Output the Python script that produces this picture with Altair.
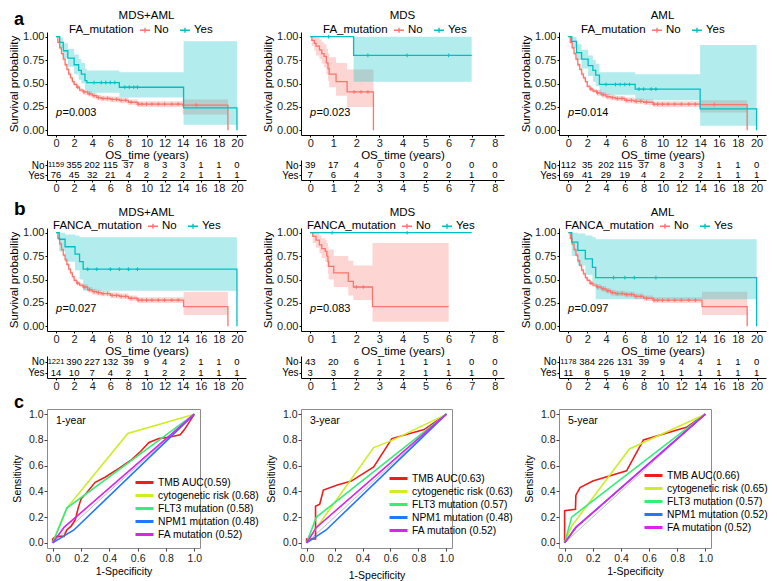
import altair as alt
import pandas as pd

FONT = "Liberation Sans"
RED = "#F8766D"
CYAN = "#00BFC4"
GROUPS = ["No", "Yes"]

TICKS_20 = [0, 2, 4, 6, 8, 10, 12, 14, 16, 18, 20]
TICKS_8 = [0, 1, 2, 3, 4, 5, 6, 7, 8]
SURV_TICKS = [0.0, 0.25, 0.5, 0.75, 1.0]
ROC_TICKS = [0.0, 0.2, 0.4, 0.6, 0.8, 1.0]

# ---------------- panel a : FA_mutation ----------------
a1_no_t = [0, 0.2, 0.4, 0.6, 0.8, 1.0, 1.2, 1.4, 1.6, 1.8, 2.0, 2.3, 2.6, 3.0, 3.5, 4.0, 4.5, 5.0, 6.0, 7.0, 8.0, 9.0, 14.0, 19.0]
a1_no_s = [1.00, 0.94, 0.88, 0.82, 0.76, 0.70, 0.65, 0.60, 0.56, 0.52, 0.49, 0.46, 0.43, 0.41, 0.39, 0.37, 0.35, 0.34, 0.33, 0.32, 0.30, 0.28, 0.27, 0.00]
a1_no_lo = [1.00, 0.92, 0.86, 0.80, 0.74, 0.68, 0.63, 0.58, 0.54, 0.50, 0.47, 0.44, 0.41, 0.38, 0.36, 0.34, 0.32, 0.31, 0.30, 0.29, 0.27, 0.25, 0.17, 0.00]
a1_no_hi = [1.00, 0.96, 0.90, 0.84, 0.78, 0.72, 0.67, 0.62, 0.58, 0.54, 0.51, 0.48, 0.45, 0.43, 0.42, 0.40, 0.38, 0.37, 0.36, 0.35, 0.33, 0.31, 0.33, 0.00]
a1_no_c = [2.4, 3.1, 3.7, 4.2, 4.7, 5.2, 5.7, 6.2, 6.7, 7.2, 7.7, 8.3, 9.1, 9.5, 10.0, 10.6, 11.3, 12.0, 12.8, 13.5, 15.5]
a1_yes_t = [0, 0.4, 0.8, 1.3, 2.0, 2.5, 2.8, 3.2, 3.4, 7.0, 14.1, 20.0]
a1_yes_s = [1.00, 0.94, 0.85, 0.77, 0.70, 0.64, 0.60, 0.53, 0.51, 0.46, 0.24, 0.00]
a1_yes_lo = [1.00, 0.88, 0.77, 0.68, 0.60, 0.54, 0.50, 0.43, 0.40, 0.35, 0.06, 0.00]
a1_yes_hi = [1.00, 0.99, 0.93, 0.87, 0.81, 0.76, 0.72, 0.66, 0.64, 0.62, 0.95, 0.00]
a1_yes_c = [4.2, 5.0, 5.5, 6.0, 6.5, 7.6, 8.1, 8.6, 9.0]

a2_no_t = [0, 0.07, 0.18, 0.25, 0.4, 0.5, 0.6, 0.7, 0.77, 0.82, 1.12, 1.6, 2.74]
a2_no_s = [1.00, 0.96, 0.93, 0.90, 0.86, 0.82, 0.79, 0.72, 0.66, 0.60, 0.52, 0.41, 0.00]
a2_no_lo = [1.00, 0.90, 0.85, 0.80, 0.76, 0.71, 0.67, 0.60, 0.53, 0.46, 0.37, 0.25, 0.00]
a2_no_hi = [1.00, 1.00, 1.00, 0.99, 0.97, 0.94, 0.92, 0.87, 0.82, 0.78, 0.72, 0.65, 0.00]
a2_no_c = [1.9, 2.2, 2.5]
a2_yes_t = [0, 1.88, 7.0]
a2_yes_s = [1.00, 0.80, 0.80]
a2_yes_lo = [1.00, 0.52, 0.52]
a2_yes_hi = [1.00, 1.00, 1.00]
a2_yes_c = [0.8, 2.5, 4.2, 6.0]

a3_no_t = [0, 0.2, 0.4, 0.6, 0.8, 1.0, 1.2, 1.4, 1.6, 1.8, 2.0, 2.3, 2.6, 3.0, 3.5, 4.0, 4.5, 5.0, 6.0, 7.0, 8.0, 9.0, 14.0, 19.0]
a3_no_s = [1.00, 0.94, 0.88, 0.82, 0.76, 0.70, 0.65, 0.60, 0.56, 0.52, 0.47, 0.44, 0.42, 0.40, 0.38, 0.36, 0.35, 0.34, 0.32, 0.31, 0.30, 0.28, 0.275, 0.00]
a3_no_lo = [1.00, 0.92, 0.86, 0.80, 0.74, 0.68, 0.63, 0.58, 0.54, 0.50, 0.45, 0.42, 0.40, 0.37, 0.35, 0.33, 0.32, 0.31, 0.29, 0.28, 0.27, 0.25, 0.19, 0.00]
a3_no_hi = [1.00, 0.96, 0.90, 0.84, 0.78, 0.72, 0.67, 0.62, 0.58, 0.54, 0.49, 0.46, 0.44, 0.43, 0.41, 0.39, 0.38, 0.37, 0.35, 0.34, 0.33, 0.31, 0.32, 0.00]
a3_no_c = [2.4, 3.1, 3.7, 4.2, 4.7, 5.2, 5.7, 6.2, 6.7, 7.2, 7.7, 8.3, 9.1, 9.5, 10.0, 10.6, 11.3, 12.0, 12.8, 13.5, 15.5]
a3_yes_t = [0, 0.35, 0.86, 1.4, 2.1, 2.6, 2.9, 3.3, 7.1, 14.0, 20.0]
a3_yes_s = [1.00, 0.95, 0.83, 0.76, 0.69, 0.64, 0.59, 0.49, 0.44, 0.23, 0.00]
a3_yes_lo = [1.00, 0.88, 0.75, 0.66, 0.58, 0.52, 0.47, 0.38, 0.32, 0.05, 0.00]
a3_yes_hi = [1.00, 1.00, 0.92, 0.86, 0.80, 0.75, 0.71, 0.62, 0.60, 0.91, 0.00]
a3_yes_c = [4.0, 5.0, 5.5, 6.0, 6.5, 7.5, 8.0, 8.8, 9.3]

# ---------------- panel b : FANCA_mutation ----------------
b1_no_t = [0, 0.2, 0.4, 0.6, 0.8, 1.0, 1.2, 1.4, 1.6, 1.8, 2.0, 2.3, 2.6, 3.0, 3.5, 4.0, 4.5, 5.0, 6.0, 7.0, 8.0, 9.0, 14.1, 19.0]
b1_no_s = [1.00, 0.94, 0.88, 0.82, 0.76, 0.71, 0.66, 0.61, 0.57, 0.53, 0.49, 0.46, 0.44, 0.42, 0.39, 0.37, 0.36, 0.35, 0.33, 0.32, 0.30, 0.28, 0.21, 0.00]
b1_no_lo = [1.00, 0.92, 0.86, 0.80, 0.74, 0.69, 0.64, 0.59, 0.55, 0.51, 0.47, 0.44, 0.42, 0.39, 0.36, 0.34, 0.33, 0.32, 0.30, 0.29, 0.27, 0.25, 0.12, 0.00]
b1_no_hi = [1.00, 0.96, 0.90, 0.84, 0.78, 0.73, 0.68, 0.63, 0.59, 0.55, 0.51, 0.48, 0.46, 0.45, 0.42, 0.40, 0.39, 0.38, 0.36, 0.35, 0.33, 0.31, 0.37, 0.00]
b1_no_c = [2.4, 3.1, 3.7, 4.2, 4.7, 5.2, 5.7, 6.2, 6.7, 7.2, 7.7, 8.3, 9.1, 9.5, 10.0, 10.6, 11.3, 12.0, 12.8, 13.5]
b1_yes_t = [0, 0.35, 1.0, 2.1, 2.6, 3.0, 20.0]
b1_yes_s = [1.00, 0.93, 0.85, 0.77, 0.69, 0.61, 0.00]
b1_yes_lo = [1.00, 0.80, 0.69, 0.60, 0.50, 0.38, 0.00]
b1_yes_hi = [1.00, 1.00, 0.98, 0.97, 0.95, 0.95, 0.00]
b1_yes_c = [3.5, 4.5, 6.0, 7.0, 8.0, 9.0]

b2_no_t = [0, 0.11, 0.25, 0.4, 0.5, 0.65, 0.72, 0.77, 0.8, 1.02, 1.65, 1.87, 2.7, 6.0]
b2_no_s = [1.00, 0.96, 0.92, 0.87, 0.83, 0.80, 0.75, 0.69, 0.64, 0.57, 0.48, 0.42, 0.21, 0.21]
b2_no_lo = [1.00, 0.89, 0.84, 0.78, 0.73, 0.69, 0.63, 0.56, 0.50, 0.42, 0.33, 0.28, 0.05, 0.05]
b2_no_hi = [1.00, 1.00, 1.00, 0.97, 0.94, 0.92, 0.89, 0.85, 0.82, 0.75, 0.70, 0.65, 0.89, 0.89]
b2_no_c = [2.0, 2.3]
b2_yes_t = [0, 7.0]
b2_yes_s = [1.00, 1.00]
b2_yes_lo = [1.00, 1.00]
b2_yes_hi = [1.00, 1.00]
b2_yes_c = [0.95, 4.2]

b3_no_t = [0, 0.2, 0.4, 0.6, 0.8, 1.0, 1.2, 1.4, 1.6, 1.8, 2.0, 2.3, 2.6, 3.0, 3.5, 4.0, 4.5, 5.0, 6.0, 7.0, 8.0, 9.0, 14.2, 19.0]
b3_no_s = [1.00, 0.94, 0.88, 0.82, 0.76, 0.70, 0.65, 0.60, 0.56, 0.52, 0.49, 0.46, 0.44, 0.42, 0.40, 0.38, 0.36, 0.35, 0.34, 0.32, 0.30, 0.28, 0.21, 0.00]
b3_no_lo = [1.00, 0.92, 0.86, 0.80, 0.74, 0.68, 0.63, 0.58, 0.54, 0.50, 0.47, 0.44, 0.42, 0.39, 0.37, 0.35, 0.33, 0.32, 0.31, 0.29, 0.27, 0.25, 0.12, 0.00]
b3_no_hi = [1.00, 0.96, 0.90, 0.84, 0.78, 0.72, 0.67, 0.62, 0.58, 0.54, 0.51, 0.48, 0.46, 0.45, 0.43, 0.41, 0.39, 0.38, 0.37, 0.35, 0.33, 0.31, 0.37, 0.00]
b3_no_c = [2.4, 3.1, 3.7, 4.2, 4.7, 5.2, 5.7, 6.2, 6.7, 7.2, 7.7, 8.3, 9.1, 9.5, 10.0, 10.6, 11.3, 12.0, 12.8, 13.5]
b3_yes_t = [0, 0.35, 1.0, 1.8, 2.55, 2.9, 20.0]
b3_yes_s = [1.00, 0.90, 0.81, 0.72, 0.63, 0.52, 0.00]
b3_yes_lo = [1.00, 0.75, 0.65, 0.55, 0.45, 0.29, 0.00]
b3_yes_hi = [1.00, 1.00, 0.99, 0.97, 0.95, 0.93, 0.00]
b3_yes_c = [4.8, 6.0, 7.0, 9.3]

# ---------------- numbers at risk ----------------
a1_risk_no = [1159, 355, 202, 115, 37, 8, 3, 3, 1, 1, 0]
a1_risk_yes = [76, 45, 32, 21, 4, 2, 2, 2, 1, 1, 1]
a2_risk_no = [39, 17, 4, 0, 0, 0, 0, 0, 0]
a2_risk_yes = [7, 6, 4, 3, 3, 2, 2, 1, 0]
a3_risk_no = [112, 35, 202, 115, 37, 8, 3, 3, 1, 1, 0]
a3_risk_yes = [69, 41, 29, 19, 4, 2, 2, 2, 1, 1, 1]
b1_risk_no = [1221, 390, 227, 132, 39, 9, 4, 2, 1, 1, 0]
b1_risk_yes = [14, 10, 7, 4, 2, 1, 2, 2, 1, 1, 1]
b2_risk_no = [43, 20, 6, 1, 1, 1, 1, 0, 0]
b2_risk_yes = [3, 3, 2, 2, 2, 1, 1, 1, 0]
b3_risk_no = [1178, 384, 226, 131, 39, 9, 4, 4, 1, 1, 0]
b3_risk_yes = [11, 8, 5, 19, 2, 1, 1, 1, 1, 1, 1]

# ---------------- panel c : ROC ----------------
ROC_COLORS = ["#EE1C1C", "#CCEE22", "#33EE77", "#2277FF", "#DD22EE"]
diag_x = [0.0, 1.0]
diag_y = [0.0, 1.0]

roc1_names = ["TMB AUC(0.59)", "cytogenetic risk (0.68)", "FLT3 mutation (0.58)", "NPM1 mutation (0.48)", "FA mutation (0.52)"]
roc1_tmb_x = [0, 0, 0.02, 0.08, 0.10, 0.13, 0.16, 0.18, 0.20, 0.24, 0.30, 0.37, 0.47, 0.55, 0.62, 0.68, 0.75, 0.82, 0.90, 0.93, 1.0]
roc1_tmb_y = [0, 0.03, 0.05, 0.05, 0.10, 0.13, 0.18, 0.27, 0.34, 0.39, 0.47, 0.51, 0.58, 0.64, 0.71, 0.78, 0.81, 0.82, 0.84, 0.88, 1.0]
roc1_cyto_x = [0, 0.10, 0.53, 1.0]
roc1_cyto_y = [0, 0.27, 0.85, 1.0]
roc1_flt3_x = [0, 0.10, 1.0]
roc1_flt3_y = [0, 0.27, 1.0]
roc1_npm1_x = [0, 0.15, 1.0]
roc1_npm1_y = [0, 0.10, 1.0]
roc1_fa_x = [0, 0.08, 1.0]
roc1_fa_y = [0, 0.12, 1.0]

roc2_names = ["TMB AUC(0.63)", "cytogenetic risk (0.63)", "FLT3 mutation (0.57)", "NPM1 mutation (0.48)", "FA mutation (0.52)"]
roc2_tmb_x = [0, 0, 0.064, 0.064, 0.094, 0.12, 0.22, 0.32, 0.48, 0.61, 0.84, 1.0]
roc2_tmb_y = [0, 0.03, 0.03, 0.285, 0.30, 0.41, 0.45, 0.48, 0.59, 0.81, 0.88, 1.0]
roc2_cyto_x = [0, 0.06, 0.48, 0.62, 1.0]
roc2_cyto_y = [0, 0.10, 0.74, 0.80, 1.0]
roc2_flt3_x = [0, 0.07, 1.0]
roc2_flt3_y = [0, 0.20, 1.0]
roc2_npm1_x = [0, 0.14, 1.0]
roc2_npm1_y = [0, 0.10, 1.0]
roc2_fa_x = [0, 0.07, 1.0]
roc2_fa_y = [0, 0.12, 1.0]

roc3_names = ["TMB AUC(0.66)", "cytogenetic risk (0.65)", "FLT3 mutation (0.57)", "NPM1 mutation (0.52)", "FA mutation (0.52)"]
roc3_tmb_x = [0, 0, 0.077, 0.08, 0.11, 0.20, 0.44, 0.56, 0.87, 1.0]
roc3_tmb_y = [0, 0.25, 0.26, 0.37, 0.43, 0.48, 0.56, 0.80, 0.90, 1.0]
roc3_cyto_x = [0, 0.05, 0.46, 0.58, 1.0]
roc3_cyto_y = [0, 0.13, 0.73, 0.79, 1.0]
roc3_flt3_x = [0, 0.05, 1.0]
roc3_flt3_y = [0, 0.20, 1.0]
roc3_npm1_x = [0, 0.08, 1.0]
roc3_npm1_y = [0, 0.12, 1.0]
roc3_fa_x = [0, 0.08, 1.0]
roc3_fa_y = [0, 0.12, 1.0]

# ---------------- helpers ----------------
CROSS = "M-1,0L1,0M0,-1L0,1"
KM_SYM = "M-1,0L1,0M0,-0.5L0,0.5"


def surv_at(ts, ss, t):
    v = ss[0]
    for ti, si in zip(ts, ss):
        if ti <= t:
            v = si
    return v


def note(txt, x, y, **kw):
    base = dict(font=FONT, color="black", align="left", baseline="middle", fontSize=11)
    base.update(kw)
    return alt.Chart(pd.DataFrame({"s": [txt]})).mark_text(**base).encode(
        text="s:N", x=alt.value(x), y=alt.value(y))


KM_X_AXIS = dict(grid=False, domainColor="black", tickColor="black", tickSize=2, labelPadding=0,
                 labelFontSize=11, labelColor="#222", titleFontSize=11.5, titleFontWeight="normal",
                 titleColor="black", titleY=20, titleBaseline="middle", labelFlush=False, labelOverlap=False)
KM_Y_AXIS = dict(grid=False, domainColor="black", tickColor="black", tickSize=2, labelPadding=1,
                 labelFontSize=11, labelColor="#222", titleFontSize=11.5, titleFontWeight="normal",
                 titleColor="black", titlePadding=3)


def km_panel(title, legend_title, legend_x, pval, curves, xdom, xticks, w, h,
             letter=None, title_y=-16, letter_y=-12, letter_size=18):
    rows, cens = [], []
    for grp, ts, ss, lo, hi, cs in curves:
        for k, (t, s, l, u) in enumerate(zip(ts, ss, lo, hi)):
            rows.append({"group": grp, "bandgrp": grp, "t": t, "s": s, "lo": l, "hi": u, "k": k})
        for c in cs:
            cens.append({"group": grp, "t": c, "s": surv_at(ts, ss, c)})
    df = pd.DataFrame(rows)
    dc = pd.DataFrame(cens)
    xs = alt.Scale(domain=xdom, nice=False, zero=False)
    ys = alt.Scale(domain=[-0.05, 1.05], nice=False, zero=False)
    col = alt.Scale(domain=GROUPS, range=[RED, CYAN])
    band_col = alt.Scale(range=[RED, CYAN])
    xax = alt.Axis(values=xticks, title="OS_time (years)", **KM_X_AXIS)
    yax = alt.Axis(values=SURV_TICKS, format=".2f", title="Survival probability", **KM_Y_AXIS)
    leg = alt.Legend(
        title=legend_title, orient="none", legendX=legend_x, legendY=-8, direction="horizontal",
        titleOrient="left", titleFontSize=11.5, titleFontWeight="normal", titleColor="black",
        titleBaseline="middle", labelFontSize=11.5, labelColor="black", symbolType=KM_SYM,
        symbolSize=100, symbolStrokeWidth=1.4, labelOffset=3, columnPadding=8,
        titlePadding=5, padding=0)
    band = alt.Chart(df).mark_area(interpolate="step-after", fillOpacity=0.3).encode(
        x=alt.X("t:Q", scale=xs, axis=xax),
        y=alt.Y("lo:Q", scale=ys, axis=yax),
        y2="hi:Q",
        fill=alt.Fill("bandgrp:N", scale=band_col, legend=None),
    )
    line = alt.Chart(df).mark_line(interpolate="step-after", strokeWidth=1.3).encode(
        x=alt.X("t:Q", scale=xs, axis=xax),
        y=alt.Y("s:Q", scale=ys, axis=yax),
        stroke=alt.Stroke("group:N", scale=col, legend=leg),
    )
    marks = alt.Chart(dc).mark_point(shape=CROSS, size=14, filled=False, strokeWidth=1, opacity=1).encode(
        x=alt.X("t:Q", scale=xs, axis=xax),
        y=alt.Y("s:Q", scale=ys, axis=yax),
        stroke=alt.Stroke("group:N", scale=col, legend=leg),
    )
    layers = [band, line, marks,
              note(title, w / 2, title_y, align="center", fontSize=11.5),
              note("p", 9, 0.79 * h, fontStyle="italic"),
              note("=" + pval, 15.5, 0.79 * h)]
    if letter:
        layers.append(note(letter, -33, letter_y, fontSize=letter_size, fontWeight="bold"))
    return alt.layer(*layers).properties(width=w, height=h)


def risk_panel(no_vals, yes_vals, xdom, xticks, w, band_h, chart_h):
    rows = [{"group": "No", "t": t, "n": n} for t, n in zip(xticks, no_vals)]
    rows += [{"group": "Yes", "t": t, "n": n} for t, n in zip(xticks, yes_vals)]
    df = pd.DataFrame(rows)
    return alt.Chart(df).mark_text(font=FONT, color="black").encode(
        x=alt.X("t:Q", scale=alt.Scale(domain=xdom, nice=False, zero=False),
                axis=alt.Axis(values=xticks, title=None, offset=band_h - chart_h, grid=False,
                              domainColor="black", tickColor="black", tickSize=2, labelPadding=0,
                              labelFontSize=11, labelColor="#222", labelFlush=False, labelOverlap=False)),
        y=alt.Y("group:N", scale=alt.Scale(type="point", domain=GROUPS, range=[0, band_h], padding=0.5),
                axis=alt.Axis(title=None, domainColor="black", tickColor="black", tickSize=2,
                              labelPadding=1, labelFontSize=10, labelColor="black", grid=False)),
        text="n:N",
        size=alt.condition(alt.datum.n >= 1000, alt.value(7.5), alt.value(9.5)),
    ).properties(width=w, height=chart_h)


def roc_panel(year, names, series, w, h, legend_x, legend_y, letter=None, xpad=3):
    rows = []
    for name, (xs_, ys_) in zip(names, series):
        for k, (fx, fy) in enumerate(zip(xs_, ys_)):
            rows.append({"series": name, "fpr": fx, "tpr": fy, "k": k})
    df = pd.DataFrame(rows)
    sx = alt.Scale(domain=[-0.04, 1.04], nice=False, zero=False)
    sy = alt.Scale(domain=[-0.04, 1.04], nice=False, zero=False)
    ax = dict(grid=False, domain=False, tickColor="#444", tickSize=3, labelFontSize=10.5,
              labelColor="#222", titleFontSize=10.5, titleFontWeight="normal", titleColor="black",
              format=".1f", labelFlush=False, labelOverlap=False)
    xax = alt.Axis(values=ROC_TICKS, title="1-Specificity", labelPadding=2, titlePadding=xpad, **ax)
    yax = alt.Axis(values=ROC_TICKS, title="Sensitivity", labelPadding=1, titlePadding=6, **ax)
    diag = alt.Chart(pd.DataFrame({"fpr": diag_x, "tpr": diag_y})).mark_line(
        color="#BDBDBD", strokeWidth=1).encode(
        x=alt.X("fpr:Q", scale=sx, axis=xax),
        y=alt.Y("tpr:Q", scale=sy, axis=yax),
    )
    lines = alt.Chart(df).mark_line(strokeWidth=1.6).encode(
        x=alt.X("fpr:Q", scale=sx, axis=xax),
        y=alt.Y("tpr:Q", scale=sy, axis=yax),
        order="k:Q",
        stroke=alt.Stroke("series:N", scale=alt.Scale(domain=names, range=ROC_COLORS),
                          sort=names,
                          legend=alt.Legend(title=None, orient="none", legendX=legend_x, legendY=legend_y,
                                            symbolType="stroke", symbolSize=324, symbolStrokeWidth=3,
                                            labelFontSize=10.3, labelColor="black", labelOffset=3,
                                            clipHeight=13, rowPadding=0, padding=0, labelLimit=200)),
    )
    layers = [diag, lines, note(year, 9, 12, fontSize=10.5)]
    if letter:
        layers.append(note(letter, -33, -6, fontSize=18, fontWeight="bold"))
    return alt.layer(*layers).properties(
        width=w, height=h, view=alt.ViewBackground(stroke="#8C8C8C", strokeWidth=1))


# ---------------- assemble ----------------
W1, W2, W3 = 199, 203, 207
HA, HB, HR = 103, 103, 139
D20 = [-1, 21]
D8 = [-0.4, 8.4]

a1 = km_panel("MDS+AML", "FA_mutation", 22, "0.003",
              [("No", a1_no_t, a1_no_s, a1_no_lo, a1_no_hi, a1_no_c),
               ("Yes", a1_yes_t, a1_yes_s, a1_yes_lo, a1_yes_hi, a1_yes_c)],
              D20, TICKS_20, W1, HA, letter="a")
a2 = km_panel("MDS", "FA_mutation", 22, "0.023",
              [("No", a2_no_t, a2_no_s, a2_no_lo, a2_no_hi, a2_no_c),
               ("Yes", a2_yes_t, a2_yes_s, a2_yes_lo, a2_yes_hi, a2_yes_c)],
              D8, TICKS_8, W2, HA)
a3 = km_panel("AML", "FA_mutation", 22, "0.014",
              [("No", a3_no_t, a3_no_s, a3_no_lo, a3_no_hi, a3_no_c),
               ("Yes", a3_yes_t, a3_yes_s, a3_yes_lo, a3_yes_hi, a3_yes_c)],
              D20, TICKS_20, W3, HA)
ta1 = risk_panel(a1_risk_no, a1_risk_yes, D20, TICKS_20, W1, 20, 43)
ta2 = risk_panel(a2_risk_no, a2_risk_yes, D8, TICKS_8, W2, 20, 43)
ta3 = risk_panel(a3_risk_no, a3_risk_yes, D20, TICKS_20, W3, 20, 43)

b1 = km_panel("MDS+AML", "FANCA_mutation", 6, "0.027",
              [("No", b1_no_t, b1_no_s, b1_no_lo, b1_no_hi, b1_no_c),
               ("Yes", b1_yes_t, b1_yes_s, b1_yes_lo, b1_yes_hi, b1_yes_c)],
              D20, TICKS_20, W1, HB, letter="b", title_y=-15, letter_y=-19, letter_size=19)
b2 = km_panel("MDS", "FANCA_mutation", 6, "0.083",
              [("No", b2_no_t, b2_no_s, b2_no_lo, b2_no_hi, b2_no_c),
               ("Yes", b2_yes_t, b2_yes_s, b2_yes_lo, b2_yes_hi, b2_yes_c)],
              D8, TICKS_8, W2, HB, title_y=-15)
b3 = km_panel("AML", "FANCA_mutation", 6, "0.097",
              [("No", b3_no_t, b3_no_s, b3_no_lo, b3_no_hi, b3_no_c),
               ("Yes", b3_yes_t, b3_yes_s, b3_yes_lo, b3_yes_hi, b3_yes_c)],
              D20, TICKS_20, W3, HB, title_y=-15)
tb1 = risk_panel(b1_risk_no, b1_risk_yes, D20, TICKS_20, W1, 22, 28)
tb2 = risk_panel(b2_risk_no, b2_risk_yes, D8, TICKS_8, W2, 22, 28)
tb3 = risk_panel(b3_risk_no, b3_risk_yes, D20, TICKS_20, W3, 22, 28)

c1 = roc_panel("1-year", roc1_names,
               [(roc1_tmb_x, roc1_tmb_y), (roc1_cyto_x, roc1_cyto_y), (roc1_flt3_x, roc1_flt3_y),
                (roc1_npm1_x, roc1_npm1_y), (roc1_fa_x, roc1_fa_y)],
               153, HR, 87, 67, letter="c")
c2 = roc_panel("3-year", roc2_names,
               [(roc2_tmb_x, roc2_tmb_y), (roc2_cyto_x, roc2_cyto_y), (roc2_flt3_x, roc2_flt3_y),
                (roc2_npm1_x, roc2_npm1_y), (roc2_fa_x, roc2_fa_y)],
               151, HR, 87, 63, xpad=7)
c3 = roc_panel("5-year", roc3_names,
               [(roc3_tmb_x, roc3_tmb_y), (roc3_cyto_x, roc3_cyto_y), (roc3_flt3_x, roc3_flt3_y),
                (roc3_npm1_x, roc3_npm1_y), (roc3_fa_x, roc3_fa_y)],
               152, HR, 84, 60)

chart = alt.concat(
    a1, a2, a3, ta1, ta2, ta3, b1, b2, b3, tb1, tb2, tb3, c1, c2, c3,
    columns=3, spacing={"row": 25, "column": 55}, bounds="flush",
    padding={"top": 2, "left": 0, "right": 0, "bottom": 0},
).resolve_scale(stroke="independent", fill="independent").configure(font=FONT).configure_view(stroke=None)

chart.save("out.html", embed_options={"renderer": "svg", "actions": False})
